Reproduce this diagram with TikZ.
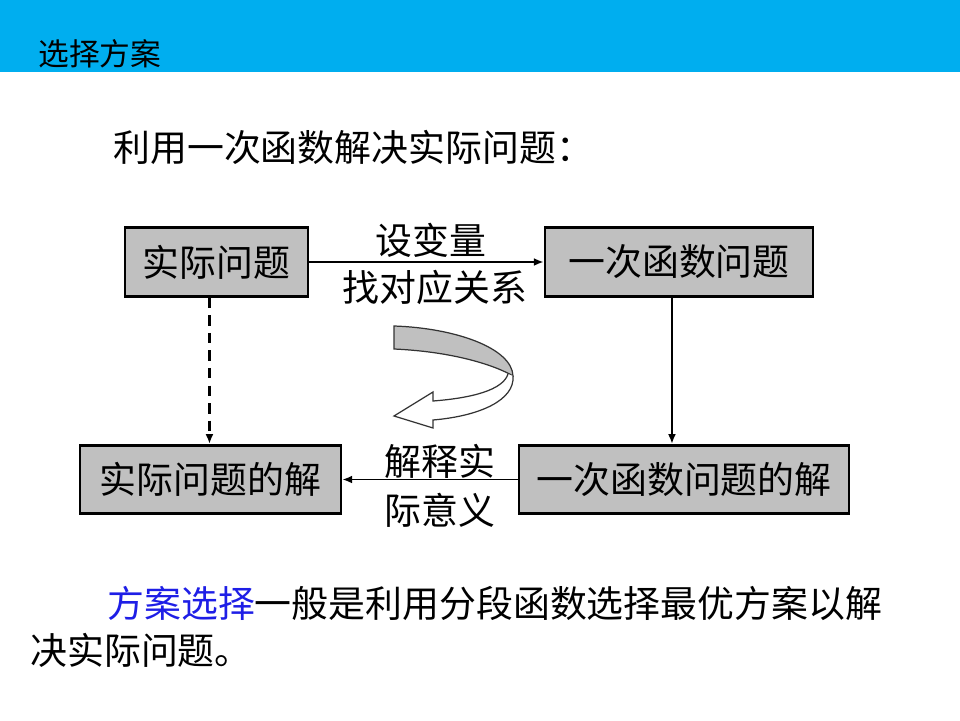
\documentclass[tikz,border=0pt]{standalone}
\usepackage{fontspec}
\setmainfont{Noto Sans CJK SC}
\usetikzlibrary{arrows.meta}
\definecolor{barblue}{RGB}{0,174,239}
\definecolor{boxgray}{RGB}{192,192,192}
\definecolor{wordblue}{RGB}{30,30,230}

\begin{document}
\begin{tikzpicture}[x=0.02cm,y=-0.02cm,>={Latex[length=5.5pt,width=4.5pt]}]
  \tikzset{
    stage/.style={draw=black,line width=1.6pt,fill=boxgray,inner sep=0pt,
                  minimum height=1.37cm,font=\fontsize{21}{25}\selectfont},
    link/.style={->,line width=1.1pt},
    hint/.style={inner sep=0pt,font=\fontsize{21}{25}\selectfont},
    ribbon/.style={draw=black!80,line width=0.7pt},
  }
  \useasboundingbox (0,0) rectangle (960,720);
  \fill[barblue] (0,0) rectangle (960,72);
  \node[anchor=west,inner sep=0pt,font=\fontsize{17.5}{20}\selectfont] (head) at (38,54) {选择方案};

  \node[hint,anchor=west] (title) at (113,147) {利用一次函数解决实际问题：};

  \node[stage,minimum width=3.66cm] (real) at (216.5,262) {实际问题};
  \node[stage,minimum width=5.36cm] (linear) at (679,262) {一次函数问题};
  \node[stage,minimum width=5.22cm] (realsol) at (210.5,479.5) {实际问题的解};
  \node[stage,minimum width=6.6cm] (linsol) at (684,479.5) {一次函数问题的解};

  \draw[link] (real.east) -- (linear.west);
  \draw[link] ([xshift=-4]linear.south) -- ([xshift=-4]linear.south |- linsol.north);
  \draw[link,line width=1.5pt,dash pattern=on 6pt off 4pt] ([xshift=-4]real.south) -- ([xshift=-4]real.south |- realsol.north);
  \draw[link] (linsol.west) -- (realsol.east);

  \node[hint] (setvar) at (431,240) {设变量};
  \node[hint] (match) at (435,287) {找对应关系};
  \node[hint] (explain) at (440,461) {解释实};
  \node[hint] (meaning) at (440,510) {际意义};

  % turning arrow
  \filldraw[ribbon,fill=boxgray] (394,326) .. controls (455,328) and (512,348) .. (513,376)
     .. controls (500,368) and (460,352) .. (394,349) -- cycle;
  \filldraw[ribbon,fill=white] (513,376) .. controls (515,400) and (480,416) .. (433,420)
     -- (433,428) -- (394,416) -- (433,392) -- (433,401)
     .. controls (472,398) and (503,390) .. (508,374);

  \node[hint,anchor=west] (note1) at (107,603) {\textcolor{wordblue}{方案选择}一般是利用分段函数选择最优方案以解};
  \node[hint,anchor=west] (note2) at (30,650) {决实际问题。};
\end{tikzpicture}
\end{document}
